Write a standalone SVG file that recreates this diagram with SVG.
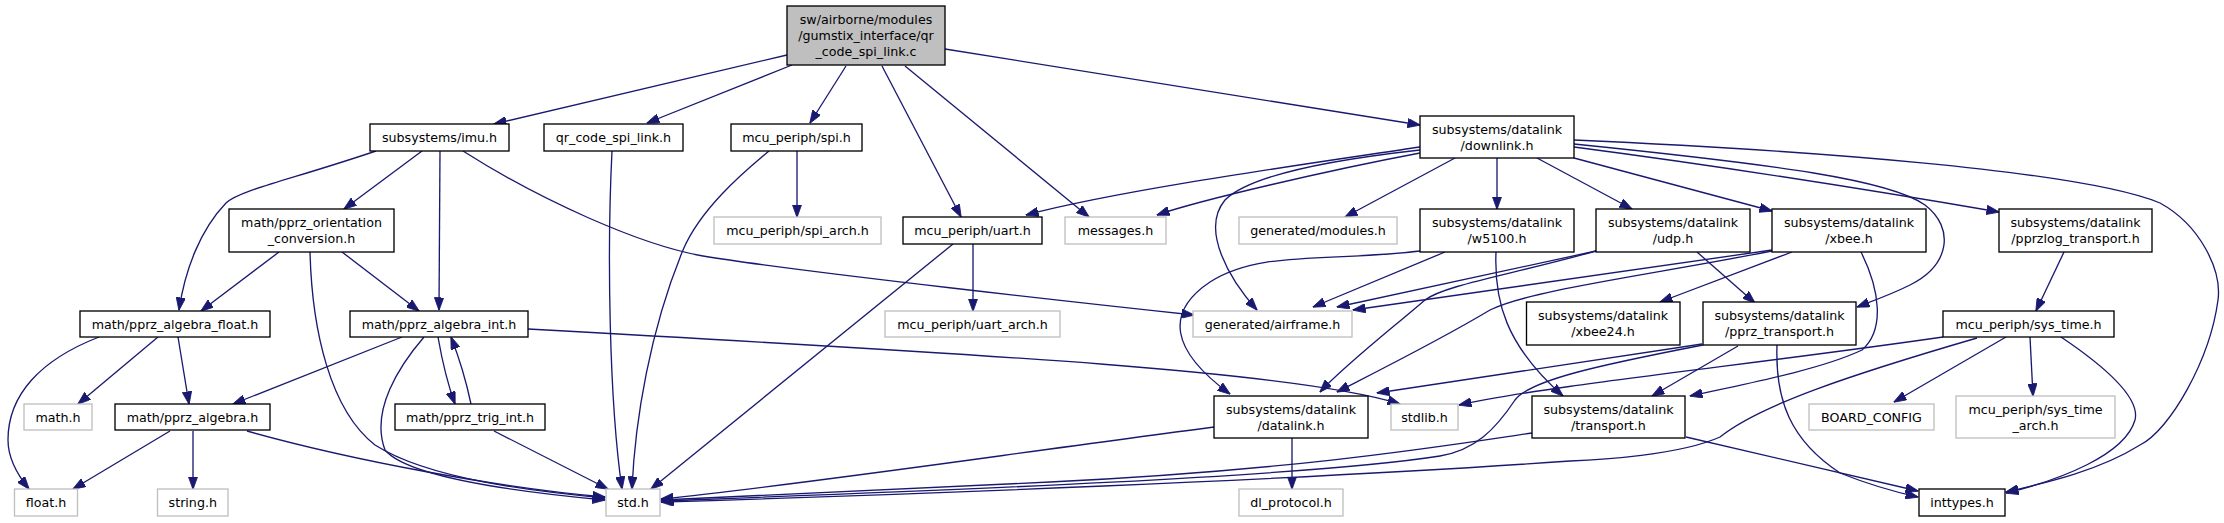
<svg xmlns="http://www.w3.org/2000/svg" width="2224" height="523" viewBox="0 0 2224 523">
<style>
text{font-family:"DejaVu Sans","Liberation Sans",sans-serif;font-size:12.67px;fill:#000;text-anchor:middle}
.n{fill:#fff;stroke:#000;stroke-width:1.33}
.g{fill:#fff;stroke:#bfbfbf;stroke-width:1.33}
.m{fill:#bfbfbf;stroke:#000;stroke-width:1.33}
#edges path{fill:none;stroke:#191970;stroke-width:1.33;marker-end:url(#arr)}
</style>
<defs>
<marker id="arr" markerUnits="userSpaceOnUse" markerWidth="13" markerHeight="9.4" viewBox="0 0 13 9.4" refX="12.5" refY="4.7" orient="auto">
<path d="M0,0 L13,4.7 L0,9.4 z" fill="#191970" stroke="#191970" stroke-width="0.8"/>
</marker>
</defs>
<rect width="2224" height="523" fill="#fff"/>
<g id="edges">
<path d="M787,55 L494,124"/>
<path d="M792,65 L647,123"/>
<path d="M846,66 L810,123"/>
<path d="M882,66 L961,217"/>
<path d="M905,66 L1089,217"/>
<path d="M945,49 L1420,125"/>
<path d="M376,151 C290,180 240,190 226,203 C200,230 185,270 179,310"/>
<path d="M422,151 L344,209"/>
<path d="M440,151 L439,310"/>
<path d="M463,151 C540,200 640,245 703,256 C800,272 1100,305 1194,315"/>
<path d="M612,151 C607,250 609,400 622,489"/>
<path d="M797,151 L797,217"/>
<path d="M769,151 C740,175 700,210 683,250 C650,330 635,420 632,489"/>
<path d="M279,252 L201,311"/>
<path d="M342,252 L419,311"/>
<path d="M310,252 C312,330 330,410 375,445 C430,480 540,492 605,498"/>
<path d="M424,337 C400,365 370,410 385,450 C410,480 540,494 605,500"/>
<path d="M402,337 L233,404"/>
<path d="M438,337 C442,360 448,385 455,404"/>
<path d="M471,404 C467,385 460,360 451,337"/>
<path d="M528,329 C1000,355 1300,372 1400,404"/>
<path d="M99,337 C40,360 8,395 8,440 C8,460 20,478 29,489"/>
<path d="M158,337 L78,404"/>
<path d="M178,337 L189,404"/>
<path d="M170,431 L73,489"/>
<path d="M193,431 L193,489"/>
<path d="M247,431 C350,460 500,488 605,497"/>
<path d="M494,431 L608,489"/>
<path d="M973,244 L973,311"/>
<path d="M953,244 L651,489"/>
<path d="M1420,147 C1300,165 1120,190 1026,215"/>
<path d="M1420,150 C1330,160 1250,175 1225,200 C1200,230 1230,280 1257,310"/>
<path d="M1420,153 C1330,170 1200,200 1157,215"/>
<path d="M1455,158 L1345,217"/>
<path d="M1497,158 L1497,209"/>
<path d="M1537,158 L1632,209"/>
<path d="M1574,158 L1772,211"/>
<path d="M1574,147 C1750,170 1900,195 1999,212"/>
<path d="M1574,144 C1780,165 1890,180 1925,205 C1955,228 1950,265 1910,285 C1890,295 1870,302 1857,307"/>
<path d="M1574,140 C1800,150 2080,170 2160,203 C2200,225 2222,270 2218,300 C2210,360 2170,430 2140,445 C2100,470 2050,482 2006,492"/>
<path d="M1445,252 L1313,307"/>
<path d="M1420,251 C1330,262 1260,250 1210,282 C1165,312 1170,350 1230,394"/>
<path d="M1496,252 C1494,300 1505,345 1563,396"/>
<path d="M1596,251 L1337,307"/>
<path d="M1596,251 C1510,275 1445,285 1425,300 C1390,330 1345,365 1320,392"/>
<path d="M1697,252 L1755,303"/>
<path d="M1772,250 L1353,310"/>
<path d="M1792,252 L1660,302"/>
<path d="M1772,251 C1650,275 1530,290 1490,310 C1440,340 1370,375 1337,392"/>
<path d="M1861,252 C1880,290 1885,330 1862,350 C1820,370 1740,385 1690,396"/>
<path d="M2064,252 L2036,311"/>
<path d="M1702,344 L1377,393"/>
<path d="M1738,346 L1652,396"/>
<path d="M1703,345 C1600,365 1530,380 1515,400 C1495,430 1475,450 1440,456 C1300,478 900,492 661,501"/>
<path d="M1777,345 C1775,400 1790,440 1840,473 C1870,485 1895,492 1918,497"/>
<path d="M1943,337 C1750,365 1550,385 1459,405"/>
<path d="M1977,338 C1850,375 1760,405 1720,437 C1680,455 1600,460 1570,461 C1300,480 900,495 661,502"/>
<path d="M2006,337 L1894,402"/>
<path d="M2030,337 L2033,396"/>
<path d="M2061,337 C2110,370 2140,400 2135,420 C2125,455 2060,480 2006,493"/>
<path d="M1214,427 C1000,455 800,485 661,499"/>
<path d="M1292,438 L1292,489"/>
<path d="M1532,433 C1450,445 1300,470 1050,482 C900,490 750,497 661,500"/>
<path d="M1686,437 L1918,491"/>
</g>
<g id="n_main"><rect class="m" x="787" y="6" width="158" height="59"/><text x="866" y="24">sw/airborne/modules</text><text x="866" y="40">/gumstix_interface/qr</text><text x="866" y="56">_code_spi_link.c</text></g>
<g id="n_imu"><rect class="n" x="370" y="124" width="139" height="27"/><text x="439.5" y="142">subsystems/imu.h</text></g>
<g id="n_qr"><rect class="n" x="544" y="124" width="139" height="27"/><text x="613.5" y="142">qr_code_spi_link.h</text></g>
<g id="n_spi"><rect class="n" x="731" y="124" width="131" height="27"/><text x="796.5" y="142">mcu_periph/spi.h</text></g>
<g id="n_downlink"><rect class="n" x="1420" y="116" width="154" height="42"/><text x="1497" y="133.5">subsystems/datalink</text><text x="1497" y="149.5">/downlink.h</text></g>
<g id="n_spi_arch"><rect class="g" x="714" y="217" width="167" height="27"/><text x="797.5" y="235">mcu_periph/spi_arch.h</text></g>
<g id="n_uart"><rect class="n" x="903" y="217" width="139" height="27"/><text x="972.5" y="235">mcu_periph/uart.h</text></g>
<g id="n_messages"><rect class="g" x="1065" y="217" width="101" height="27"/><text x="1115.5" y="235">messages.h</text></g>
<g id="n_modules"><rect class="g" x="1239" y="217" width="158" height="27"/><text x="1318" y="235">generated/modules.h</text></g>
<g id="n_orient"><rect class="n" x="229" y="209" width="165" height="43"/><text x="311.5" y="227">math/pprz_orientation</text><text x="311.5" y="243">_conversion.h</text></g>
<g id="n_w5100"><rect class="n" x="1420" y="209" width="154" height="43"/><text x="1497" y="227">subsystems/datalink</text><text x="1497" y="243">/w5100.h</text></g>
<g id="n_udp"><rect class="n" x="1596" y="209" width="154" height="43"/><text x="1673" y="227">subsystems/datalink</text><text x="1673" y="243">/udp.h</text></g>
<g id="n_xbee"><rect class="n" x="1772" y="209" width="154" height="43"/><text x="1849" y="227">subsystems/datalink</text><text x="1849" y="243">/xbee.h</text></g>
<g id="n_pprzlog"><rect class="n" x="1999" y="209" width="153" height="43"/><text x="2075.5" y="227">subsystems/datalink</text><text x="2075.5" y="243">/pprzlog_transport.h</text></g>
<g id="n_alg_float"><rect class="n" x="80" y="311" width="190" height="26"/><text x="175" y="328.5">math/pprz_algebra_float.h</text></g>
<g id="n_alg_int"><rect class="n" x="350" y="311" width="178" height="26"/><text x="439" y="328.5">math/pprz_algebra_int.h</text></g>
<g id="n_uart_arch"><rect class="g" x="885" y="311" width="175" height="26"/><text x="972.5" y="328.5">mcu_periph/uart_arch.h</text></g>
<g id="n_airframe"><rect class="g" x="1193" y="311" width="159" height="26"/><text x="1272.5" y="328.5">generated/airframe.h</text></g>
<g id="n_xbee24"><rect class="n" x="1526.5" y="302" width="153.5" height="43"/><text x="1603" y="320">subsystems/datalink</text><text x="1603" y="336">/xbee24.h</text></g>
<g id="n_pprz_transport"><rect class="n" x="1703" y="302" width="153" height="43"/><text x="1779.5" y="320">subsystems/datalink</text><text x="1779.5" y="336">/pprz_transport.h</text></g>
<g id="n_sys_time"><rect class="n" x="1943" y="311" width="171" height="26"/><text x="2028.5" y="328.5">mcu_periph/sys_time.h</text></g>
<g id="n_math"><rect class="g" x="24" y="404" width="68" height="26"/><text x="58" y="421.5">math.h</text></g>
<g id="n_alg"><rect class="n" x="115" y="404" width="155" height="26"/><text x="192.5" y="421.5">math/pprz_algebra.h</text></g>
<g id="n_trig"><rect class="n" x="395" y="404" width="150" height="26"/><text x="470" y="421.5">math/pprz_trig_int.h</text></g>
<g id="n_datalink"><rect class="n" x="1214" y="396" width="154" height="42"/><text x="1291" y="413.5">subsystems/datalink</text><text x="1291" y="429.5">/datalink.h</text></g>
<g id="n_stdlib"><rect class="g" x="1391" y="404" width="67" height="26"/><text x="1424.5" y="421.5">stdlib.h</text></g>
<g id="n_transport"><rect class="n" x="1532" y="396" width="153" height="42"/><text x="1608.5" y="413.5">subsystems/datalink</text><text x="1608.5" y="429.5">/transport.h</text></g>
<g id="n_board"><rect class="g" x="1809" y="404" width="125" height="26"/><text x="1871.5" y="421.5">BOARD_CONFIG</text></g>
<g id="n_sys_time_arch"><rect class="g" x="1956" y="396" width="159" height="42"/><text x="2035.5" y="413.5">mcu_periph/sys_time</text><text x="2035.5" y="429.5">_arch.h</text></g>
<g id="n_float"><rect class="g" x="14.5" y="489" width="63" height="27"/><text x="46" y="507">float.h</text></g>
<g id="n_string"><rect class="g" x="157.5" y="489" width="70.5" height="27"/><text x="192.8" y="507">string.h</text></g>
<g id="n_std"><rect class="g" x="606" y="489" width="54" height="27"/><text x="633" y="507">std.h</text></g>
<g id="n_dl_protocol"><rect class="g" x="1239" y="489" width="104" height="27"/><text x="1291" y="507">dl_protocol.h</text></g>
<g id="n_inttypes"><rect class="n" x="1919" y="489" width="86" height="27"/><text x="1962" y="507">inttypes.h</text></g>
</svg>
